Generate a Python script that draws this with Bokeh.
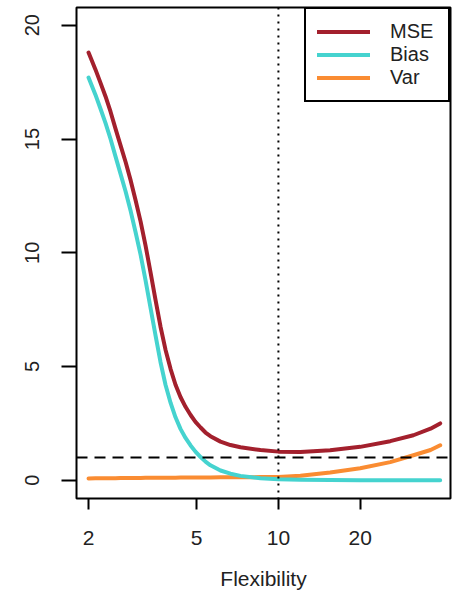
from bokeh.plotting import figure
from bokeh.models import (ColumnDataSource, FixedTicker, Range1d, Legend, LegendItem,
                          Span, PrintfTickFormatter)
from bokeh.embed import file_html
from bokeh.resources import INLINE

# ---- data ----
flexibility = [2, 2.12, 2.21, 2.31, 2.41, 2.51, 2.62, 2.74, 2.86, 2.98, 3.11, 3.24, 3.38,
               3.53, 3.68, 3.84, 4.01, 4.18, 4.36, 4.55, 4.75, 4.95, 5.17, 5.39, 5.62,
               6.12, 6.66, 7.25, 8.59, 10, 12.05, 15.5, 20, 25.8, 31.4, 36.3, 39.4]
mse = [18.8, 18.06, 17.49, 16.87, 16.2, 15.48, 14.74, 13.98, 13.17, 12.31, 11.37, 10.34,
       9.16, 7.92, 6.76, 5.74, 4.89, 4.2, 3.66, 3.23, 2.87, 2.57, 2.32, 2.1, 1.94,
       1.7, 1.55, 1.45, 1.33, 1.26, 1.24, 1.32, 1.47, 1.72, 1.98, 2.27, 2.5]
bias = [17.7, 16.95, 16.35, 15.7, 15.0, 14.26, 13.49, 12.68, 11.82, 10.9, 9.91, 8.81,
        7.6, 6.36, 5.2, 4.2, 3.4, 2.77, 2.26, 1.86, 1.53, 1.26, 1.02, 0.82, 0.66,
        0.43, 0.29, 0.195, 0.09, 0.045, 0.02, 0.008, 0.003, 0.0, 0.0, 0.0, 0.0]
var = [0.08, 0.085, 0.09, 0.09, 0.095, 0.095, 0.1, 0.1, 0.1, 0.105, 0.105, 0.11, 0.11,
       0.11, 0.11, 0.115, 0.115, 0.115, 0.12, 0.12, 0.12, 0.12, 0.125, 0.125, 0.125,
       0.13, 0.13, 0.135, 0.14, 0.15, 0.2, 0.34, 0.53, 0.8, 1.1, 1.33, 1.54]
irreducible_error = 1.0
optimal_flexibility = 10
x_ticks = [2, 5, 10, 20]
y_ticks = [0, 5, 10, 15, 20]
series_names = ["MSE", "Bias", "Var"]
series_colors = ["#A3202D", "#45D3CF", "#FA8C32"]

src = ColumnDataSource(dict(x=flexibility, mse=mse, bias=bias, var=var))

p = figure(width=454, height=592, output_backend="svg", toolbar_location=None,
           x_axis_type="log",
           x_range=Range1d(1.806, 43), y_range=Range1d(-0.8, 20.78),
           min_border_left=76, min_border_right=4, min_border_top=7, min_border_bottom=94)

p.grid.visible = False
p.outline_line_color = "black"
p.outline_line_width = 2
p.background_fill_color = "white"
p.border_fill_color = "white"

FONT = "Liberation Sans"
TEXT_COLOR = "#222222"

# axes
p.xaxis.ticker = FixedTicker(ticks=x_ticks)
p.xaxis.formatter = PrintfTickFormatter(format="%d")
p.yaxis.ticker = FixedTicker(ticks=y_ticks)
for ax in (p.xaxis, p.yaxis):
    ax.axis_line_color = None
    ax.minor_tick_line_color = None
    ax.major_tick_in = 0
    ax.major_tick_line_color = "black"
    ax.major_tick_line_width = 2
    ax.major_label_text_font = FONT
    ax.major_label_text_color = TEXT_COLOR
p.xaxis.major_label_text_font_size = "21px"
p.yaxis.major_label_text_font_size = "20px"
p.xaxis.major_tick_out = 11
p.xaxis.major_label_standoff = 21
p.yaxis.major_tick_out = 15
p.yaxis.major_label_standoff = 22
p.yaxis.major_label_orientation = "vertical"

p.xaxis.axis_label = "Flexibility"
p.xaxis.axis_label_text_font = FONT
p.xaxis.axis_label_text_font_style = "normal"
p.xaxis.axis_label_text_font_size = "21px"
p.xaxis.axis_label_text_color = TEXT_COLOR
p.xaxis.axis_label_standoff = 19

# reference lines
p.add_layout(Span(location=irreducible_error, dimension="width", line_color="black",
                  line_width=2, line_dash="11 7"))
p.add_layout(Span(location=optimal_flexibility, dimension="height", line_color="black",
                  line_width=2, line_dash="2 5"))

# curves (var below bias below mse)
r_var = p.line("x", "var", source=src, line_color=series_colors[2], line_width=4,
               line_cap="round", line_join="round")
r_bias = p.line("x", "bias", source=src, line_color=series_colors[1], line_width=4,
                line_cap="round", line_join="round")
r_mse = p.line("x", "mse", source=src, line_color=series_colors[0], line_width=4,
               line_cap="round", line_join="round")

legend = Legend(items=[LegendItem(label=series_names[0], renderers=[r_mse]),
                       LegendItem(label=series_names[1], renderers=[r_bias]),
                       LegendItem(label=series_names[2], renderers=[r_var])],
                location="top_right", margin=0, padding=11, spacing=0,
                glyph_width=53, glyph_height=23, label_height=23, label_width=47,
                label_standoff=20,
                label_text_font=FONT, label_text_font_size="20px",
                label_text_color=TEXT_COLOR,
                border_line_color="black", border_line_width=2, border_line_alpha=1.0,
                background_fill_color="white", background_fill_alpha=1.0)
p.add_layout(legend, "center")

open("out.html", "w").write(file_html(p, INLINE))
